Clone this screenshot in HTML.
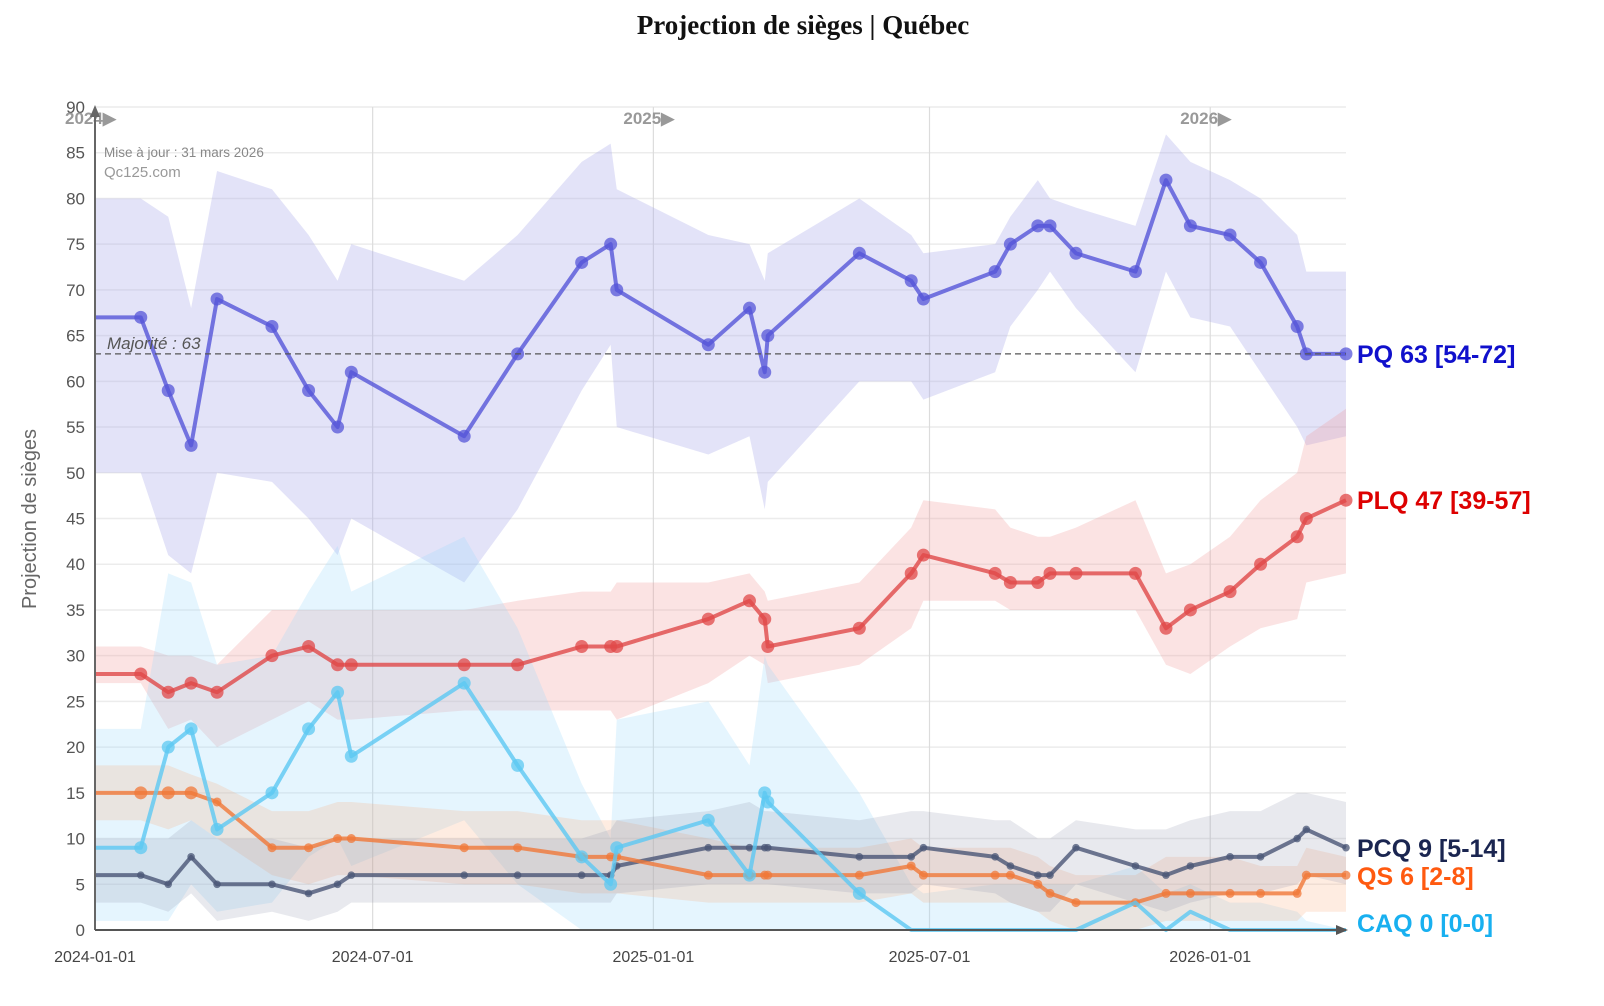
<!DOCTYPE html>
<html><head><meta charset="utf-8">
<style>
html,body{margin:0;padding:0;background:#fff;}
svg{display:block;}
</style></head>
<body>
<svg id="chart" width="1604" height="1006" xmlns="http://www.w3.org/2000/svg">
<text x="803" y="34" text-anchor="middle" font-family="'Liberation Serif',serif" font-weight="bold" font-size="27" fill="#111">Projection de sièges | Québec</text>
<text transform="translate(36,519) rotate(-90)" text-anchor="middle" font-family="'Liberation Sans',sans-serif" font-size="20" fill="#666">Projection de sièges</text>
<g id="grid"></g>
<g id="bands"></g>
<g id="lines"></g>
<g id="axes"></g>
<g id="labels"></g>
</svg>
<script>
const dates = ["2024-01-01","2024-01-31","2024-02-18","2024-03-04","2024-03-21","2024-04-26","2024-05-20","2024-06-08","2024-06-17","2024-08-30","2024-10-04","2024-11-15","2024-12-04","2024-12-08","2025-02-06","2025-03-05","2025-03-15","2025-03-17","2025-05-16","2025-06-19","2025-06-27","2025-08-13","2025-08-23","2025-09-10","2025-09-18","2025-10-05","2025-11-13","2025-12-03","2025-12-19","2026-01-14","2026-02-03","2026-02-27","2026-03-05","2026-03-31"];
const pqValues = [67,67,59,53,69,66,59,55,61,54,63,73,75,70,64,68,61,65,74,71,69,72,75,77,77,74,72,82,77,76,73,66,63,63];
const pqHigh = [80,80,78,68,83,81,76,71,75,71,76,84,86,81,76,75,71,74,80,76,74,75,78,82,80,79,77,87,84,82,80,76,72,72];
const pqLow = [50,50,41,39,50,49,45,41,45,38,46,59,64,55,52,54,46,49,60,60,58,61,66,70,72,68,61,72,67,66,61,55,53,54];
const plqValues = [28,28,26,27,26,30,31,29,29,29,29,31,31,31,34,36,34,31,33,39,41,39,38,38,39,39,39,33,35,37,40,43,45,47];
const plqHigh = [31,31,30,30,29,35,35,35,35,35,36,37,37,38,38,39,37,36,38,44,47,46,44,43,43,44,47,39,40,43,47,50,54,57];
const plqLow = [27,27,22,23,20,23,25,23,23,24,24,24,24,23,27,30,29,27,29,33,36,36,35,35,35,35,35,29,28,31,33,34,38,39];
const caqValues = [9,9,20,22,11,15,22,26,19,27,18,8,5,9,12,6,15,14,4,0,0,0,0,0,0,0,3,0,2,0,0,0,0,0];
const caqHigh = [22,22,39,38,29,30,37,42,37,43,33,16,10,23,25,18,30,29,15,5,4,5,5,5,5,5,7,4,5,3,3,2,1,0];
const caqLow = [1,1,1,5,2,3,8,10,7,12,5,0,0,0,0,0,0,0,0,0,0,0,0,0,0,0,0,0,0,0,0,0,0,0];
const qsValues = [15,15,15,15,14,9,9,10,10,9,9,8,8,8,6,6,6,6,6,7,6,6,6,5,4,3,3,4,4,4,4,4,6,6];
const qsHigh = [18,18,18,17,16,13,13,14,14,13,13,12,12,12,10,9,9,9,9,10,9,9,9,8,7,6,6,8,8,8,7,7,9,8];
const qsLow = [12,12,11,12,10,6,5,6,6,5,5,4,4,4,3,3,3,3,3,4,3,3,3,2,1,0,0,1,1,1,1,1,2,2];
const pcqValues = [6,6,5,8,5,5,4,5,6,6,6,6,6,7,9,9,9,9,8,8,9,8,7,6,6,9,7,6,7,8,8,10,11,9];
const pcqHigh = [10,10,10,12,10,10,9,10,10,10,10,10,11,12,13,14,13,13,12,13,13,12,12,10,10,12,11,11,12,13,13,15,15,14];
const pcqLow = [3,3,2,4,1,2,1,2,3,3,3,3,3,4,5,5,5,5,4,4,5,4,3,2,2,5,3,2,3,4,4,5,6,5];
const yTicks = [0,5,10,15,20,25,30,35,40,45,50,55,60,65,70,75,80,85,90];
const xTickLabels = ["2024-01-01","2024-07-01","2025-01-01","2025-07-01","2026-01-01"];
const yearMarks = ["2024-01-01","2025-01-01","2026-01-01"];
const majority = 63;

const NS="http://www.w3.org/2000/svg";
const X0=95, Y0=930, PXD=1.5256, PXU=823/90;
const t0=Date.UTC(2024,0,1);
function xs(d){const p=d.split('-').map(Number);return X0+((Date.UTC(p[0],p[1]-1,p[2])-t0)/86400000)*PXD;}
function ys(v){return Y0-v*PXU;}
function mk(tag,attrs,parent){const e=document.createElementNS(NS,tag);for(const k in attrs)e.setAttribute(k,attrs[k]);parent.appendChild(e);return e;}
const grid=document.getElementById('grid'),bands=document.getElementById('bands'),lines=document.getElementById('lines'),axes=document.getElementById('axes'),labels=document.getElementById('labels');
const XEND=xs("2026-03-31");
const F="'Liberation Sans',sans-serif";

yTicks.forEach(v=>{
  const l=mk('line',{x1:X0,x2:XEND,y1:ys(v),y2:ys(v),stroke:'#ececec','stroke-width':1.5},grid);
  
  
  const t=mk('text',{x:85,y:ys(v)+6,'text-anchor':'end','font-family':F,'font-size':17,fill:'#555'},grid);
  t.textContent=v;
  
  
});
xTickLabels.forEach((d,i)=>{
  if(i>0){const l=mk('line',{x1:xs(d),x2:xs(d),y1:ys(90),y2:Y0,stroke:'#dcdcdc','stroke-width':1.2},grid);
  
  }
  const t=mk('text',{x:xs(d),y:962,'text-anchor':'middle','font-family':F,'font-size':16,fill:'#444'},grid);
  t.textContent=d;
  
  
});
yearMarks.forEach(d=>{
  const t=mk('text',{x:xs(d)-30,y:124,'font-family':F,'font-size':17,'font-weight':'bold',fill:'#999'},grid);
  t.textContent=d.slice(0,4)+'▶';
  
  
});

const parties=[
 {name:'pq',v:pqValues,h:pqHigh,l:pqLow,line:'#5555d8',band:'rgba(170,170,235,0.33)',r:6.5,lab:'PQ',lc:'#1010cc'},
 {name:'plq',v:plqValues,h:plqHigh,l:plqLow,line:'#e04848',band:'rgba(240,150,150,0.27)',r:6.5,lab:'PLQ',lc:'#dd0000'},
 {name:'caq',v:caqValues,h:caqHigh,l:caqLow,line:'#5cc8f2',band:'rgba(150,215,250,0.25)',r:6.5,lab:'CAQ',lc:'#18b0f0'},
 {name:'qs',v:qsValues,h:qsHigh,l:qsLow,line:'#f07838',band:'rgba(250,170,120,0.22)',r:4.5,lab:'QS',lc:'#ff5a10'},
 {name:'pcq',v:pcqValues,h:pcqHigh,l:pcqLow,line:'#4a5575',band:'rgba(140,145,170,0.2)',r:3.8,lab:'PCQ',lc:'#1a2550'}
];
parties.forEach(p=>{
  let d='';
  dates.forEach((dt,i)=>{d+=(i?'L':'M')+xs(dt)+','+ys(p.h[i]);});
  for(let i=dates.length-1;i>=0;i--)d+='L'+xs(dates[i])+','+ys(p.l[i]);
  const b=mk('path',{d:d+'Z',fill:p.band},bands);
  
  
});
parties.slice().reverse().forEach(p=>{
  const pts=dates.map((dt,i)=>xs(dt)+','+ys(p.v[i])).join(' ');
  const pl=mk('polyline',{points:pts,fill:'none',stroke:p.line,'stroke-width':4,'stroke-opacity':0.8,'stroke-linejoin':'round'},lines);
  
  
  dates.forEach((dt,i)=>{
    if(i===0)return;
    if(p.name==='caq' && i>18)return;
    const r=(p.name==='qs'&&i<4)?6.5:p.r;
    const c=mk('circle',{cx:xs(dt),cy:ys(p.v[i]),r:r,fill:p.line,'fill-opacity':0.75},lines);
    
    
  });
});
const mj=mk('line',{x1:X0,x2:XEND,y1:ys(majority),y2:ys(majority),stroke:'#555','stroke-width':1.3,'stroke-dasharray':'6,4'},axes);


const mt=mk('text',{x:107,y:ys(majority)-5,'font-family':F,'font-size':17,'font-style':'italic',fill:'#555'},axes);
mt.textContent='Majorité : '+majority;


const ya=mk('line',{x1:X0,x2:X0,y1:Y0,y2:ys(90)+2,stroke:'#666','stroke-width':2},axes);


const yar=mk('path',{d:`M${X0-5},${ys(90)+10}L${X0},${ys(90)-2}L${X0+5},${ys(90)+10}Z`,fill:'#666'},axes);


const xa=mk('line',{x1:X0,x2:XEND,y1:Y0,y2:Y0,stroke:'#555','stroke-width':2},axes);


const xar=mk('path',{d:`M${XEND-10},${Y0-5}L${XEND+2},${Y0}L${XEND-10},${Y0+5}Z`,fill:'#555'},axes);


const u1=mk('text',{x:104,y:157,'font-family':F,'font-size':13.5,fill:'#888'},axes);
u1.textContent='Mise à jour : 31 mars 2026';


const u2=mk('text',{x:104,y:177,'font-family':F,'font-size':15,fill:'#999'},axes);
u2.textContent='Qc125.com';


const labY={pq:354,plq:500,pcq:848,qs:876,caq:923};
parties.forEach(p=>{
  const n=dates.length-1;
  const t=mk('text',{x:1357,y:labY[p.name]+9,'font-family':F,'font-size':25,'font-weight':'bold',fill:p.lc},labels);
  t.textContent=`${p.lab} ${p.v[n]} [${p.l[n]}-${p.h[n]}]`;
  
  
});
</script>
</body></html>
